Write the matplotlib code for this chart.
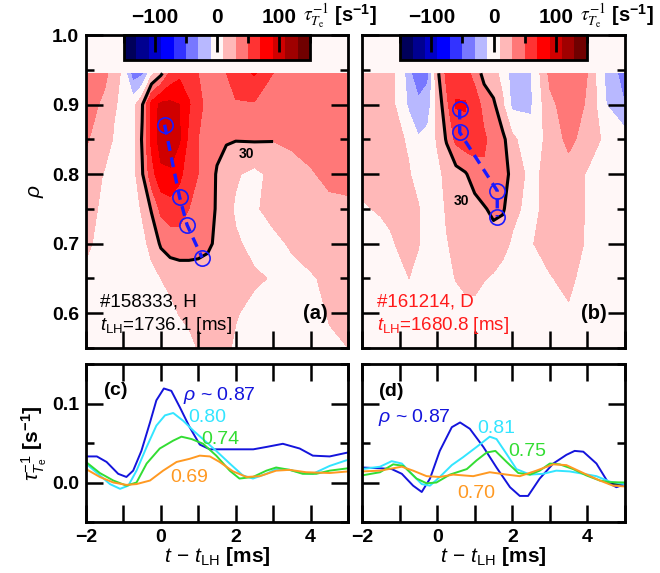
import numpy as np
import matplotlib
matplotlib.use('Agg')
import matplotlib.pyplot as plt
from matplotlib.ticker import MultipleLocator, FixedLocator

plt.rcParams['font.family'] = ['Liberation Sans', 'DejaVu Sans']
plt.rcParams['mathtext.fontset'] = 'custom'
plt.rcParams['mathtext.rm'] = 'Liberation Sans'
plt.rcParams['mathtext.it'] = 'Liberation Sans:italic'
plt.rcParams['mathtext.bf'] = 'Liberation Sans:bold'

# ---- contour maps: tau^-1 [s^-1] on (rho, t - t_LH) grid ----
t_grid = np.array([-2, -1.5, -1.25, -1, -0.75, -0.5, -0.25, 0, 0.25, 0.5, 0.75,
                   1, 1.25, 1.5, 1.75, 2, 2.5, 3, 3.5, 4, 4.5, 5])
rho_grid = np.array([0.55, 0.60, 0.65, 0.70, 0.75, 0.80, 0.85, 0.90, 0.945])

# rows: rho from 0.55 (bottom) to 0.945 (top)
rate_a = np.array([
    [0, 0, 0, 0, 0, 0, 0, 0, 0, 0, 5, 11, 14, 14, 12, 8, 3, 0, 0, 3, 8, 10],
    [0, 0, 0, 0, 0, 0, 0, 0, 5, 11, 14, 15, 16, 15, 13, 11, 6, 3, 2, 5, 11, 12],
    [5, 0, 0, 0, 0, 0, 5, 10, 15, 17, 17, 17, 17, 16, 15, 14, 12, 9, 5, 8, 14, 15],
    [14, 2, 0, 0, 0, 5, 15, 33, 40, 42, 42, 40, 35, 25, 20, 12, 6, 6, 12, 18, 18, 18],
    [18, 5, 2, 0, 2, 12, 32, 55, 60, 58, 50, 45, 38, 28, 15, 8, 8, 15, 18, 22, 25, 25],
    [25, 8, 5, 0, 2, 28, 62, 85, 88, 75, 58, 50, 42, 28, 20, 12, 5, 15, 22, 28, 35, 38],
    [32, 20, 8, 2, 3, 32, 75, 100, 98, 92, 65, 50, 42, 36, 32, 31, 32, 31, 34, 38, 31, 35],
    [40, 25, 12, 5, 2, 28, 78, 95, 95, 90, 72, 55, 45, 40, 45, 48, 48, 45, 40, 42, 40, 40],
    [45, 35, 20, 5, -40, -35, 5, 25, 55, 65, 60, 50, 45, 40, 50, 60, 72, 50, 40, 40, 40, 40],
])

rate_b = np.array([
    [0, 0, 0, 0, 0, 0, 0, 0, 0, 0, 0, 0, 0, 0, 0, 0, 0, 0, 0, 0, 0, 0],
    [0, 0, 0, 0, 0, 0, 0, 0, 0, 0, 5, 6, 0, 0, 0, 0, 0, 0, 8, 0, 0, 0],
    [0, 0, 2, 6, 10, 5, 0, 0, 3, 11, 14, 14, 11, 8, 4, 0, 0, 9, 14, 3, 0, 0],
    [0, 3, 8, 12, 13, 11, 2, 0, 9, 14, 16, 18, 20, 20, 15, 8, 9, 16, 18, 8, 0, 0],
    [8, 12, 13, 13, 12, 11, 3, 2, 12, 15, 18, 22, 28, 35, 33, 14, 5, 16, 20, 8, 0, 0],
    [15, 14, 13, 12, 11, 5, 0, 5, 15, 22, 28, 40, 48, 50, 45, 20, 5, 16, 22, 8, 2, 0],
    [15, 15, 14, 12, 8, -8, -3, 12, 32, 55, 62, 60, 52, 45, 35, 15, -5, 18, 35, 22, 5, 0],
    [15, 15, 12, 8, -15, -25, -20, 15, 45, 72, 72, 58, 45, 34, 12, -15, -12, 25, 40, 28, -10, -30],
    [15, 15, 12, 8, -25, -45, -35, 25, 55, 60, 55, 45, 22, 15, 5, -20, -12, 35, 45, 30, -15, -40],
])

# peak-time markers (rho vs t)
peak_t_a = [0.1, 0.5, 0.7, 1.1]
peak_rho_a = [0.871, 0.767, 0.727, 0.68]
peak_t_b = [0.6, 0.6, 1.6, 1.6]
peak_rho_b = [0.893, 0.86, 0.776, 0.739]

# ---- time traces (c): #158333 ----
c_t_087 = [-2, -1.71, -1.45, -1.14, -0.92, -0.74, -0.52, -0.29, -0.12, 0.08, 0.28, 0.51,
           0.77, 1.04, 1.31, 1.93, 2.47, 2.82, 3.26, 3.71, 4.06, 4.51, 5.0]
c_v_087 = [0.033, 0.033, 0.026, 0.011, 0.007, 0.015, 0.040, 0.076, 0.104, 0.119, 0.116, 0.095,
           0.070, 0.048, 0.042, 0.042, 0.042, 0.045, 0.049, 0.043, 0.034, 0.033, 0.038]
c_t_080 = [-2, -1.63, -1.36, -1.09, -0.87, -0.65, -0.38, -0.12, 0.11, 0.33, 0.6, 0.86,
           1.17, 1.48, 1.84, 2.19, 2.46, 2.82, 3.08, 3.44, 3.79, 4.06, 4.51, 4.95]
c_v_080 = [0.024, 0.009, -0.002, -0.008, -0.004, 0.015, 0.045, 0.072, 0.085, 0.088, 0.078, 0.066,
           0.053, 0.040, 0.024, 0.009, 0.005, 0.011, 0.017, 0.016, 0.012, 0.011, 0.021, 0.028]
c_t_074 = [-2, -1.63, -1.27, -0.92, -0.65, -0.38, -0.03, 0.33, 0.55, 0.82, 1.13, 1.48,
           1.84, 2.1, 2.46, 2.82, 3.08, 3.44, 3.79, 4.15, 4.51, 5.0]
c_v_074 = [0.026, 0.012, 0.0025, -0.004, 0.0, 0.024, 0.043, 0.053, 0.058, 0.055, 0.049, 0.034,
           0.015, 0.005, 0.007, 0.015, 0.019, 0.016, 0.011, 0.011, 0.015, 0.018]
c_t_069 = [-2, -1.63, -1.27, -0.92, -0.65, -0.29, 0.06, 0.42, 0.77, 1.04, 1.31, 1.57,
           1.93, 2.29, 2.64, 3.08, 3.44, 3.88, 4.51, 5.0]
c_v_069 = [0.017, 0.007, 0.0, -0.003, -0.002, 0.0025, 0.015, 0.026, 0.030, 0.034, 0.033, 0.026,
           0.014, 0.007, 0.008, 0.015, 0.016, 0.013, 0.012, 0.014]

# ---- time traces (d): #161214 ----
d_t_087 = [-2, -1.52, -1.21, -0.94, -0.64, -0.41, -0.19, 0.07, 0.39, 0.61, 0.87, 1.23, 1.58,
           1.94, 2.2, 2.42, 2.73, 3.09, 3.44, 3.66, 3.89, 4.24, 4.55, 4.77, 5.0]
d_v_087 = [0.019, 0.018, 0.017, 0.011, -0.004, -0.012, 0.005, 0.040, 0.070, 0.076, 0.068, 0.045, 0.019,
           -0.006, -0.017, -0.017, 0.005, 0.024, 0.035, 0.040, 0.039, 0.024, 0.0, -0.006, -0.002]
d_t_081 = [-2, -1.52, -1.21, -0.94, -0.64, -0.41, -0.19, 0.07, 0.39, 0.69, 1.05, 1.4, 1.58,
           1.85, 2.11, 2.47, 2.82, 3.17, 3.53, 3.89, 4.24, 4.6, 5.0]
d_v_081 = [0.017, 0.020, 0.027, 0.024, 0.009, -0.002, -0.004, 0.007, 0.022, 0.032, 0.045, 0.058, 0.055,
           0.036, 0.017, 0.010, 0.011, 0.015, 0.014, 0.011, 0.008, 0.001, -0.002]
d_t_075 = [-2, -1.52, -1.17, -0.9, -0.55, -0.28, -0.02, 0.34, 0.79, 1.05, 1.32, 1.55, 1.85,
           2.16, 2.47, 2.73, 3.0, 3.26, 3.62, 3.97, 4.33, 4.6, 5.0]
d_v_075 = [0.009, 0.013, 0.023, 0.021, 0.005, -0.001, 0.0, 0.010, 0.017, 0.028, 0.038, 0.040, 0.026,
           0.012, 0.010, 0.015, 0.024, 0.023, 0.017, 0.009, 0.0025, 0.0004, 0.0]
d_t_070 = [-2, -1.52, -0.94, -0.64, -0.28, 0.07, 0.43, 0.96, 1.4, 1.85, 2.2, 2.64, 3.09,
           3.44, 3.89, 4.33, 4.68, 5.0]
d_v_070 = [0.014, 0.015, 0.020, 0.015, 0.008, 0.007, 0.010, 0.008, 0.013, 0.010, 0.008, 0.015, 0.023,
           0.022, 0.012, 0.0025, -0.004, -0.005]

levels = np.arange(-150, 151, 20)
level_colors = ['#00005a', '#000090', '#0000c8', '#0000ff', '#3333ff', '#7878ff', '#b8b8ff',
                '#fff7f7',
                '#ffb8b8', '#ff7878', '#ff3333', '#ff0000', '#d00000', '#a00000', '#700000']

c_blue, c_cyan, c_green, c_orange = '#1414dc', '#33e5ff', '#33dd33', '#ff9922'

W, H = 660, 573
fig = plt.figure(figsize=(6.6, 5.73), dpi=100)


def px_axes(x0, y0, x1, y1):
    return fig.add_axes([x0 / W, 1 - y1 / H, (x1 - x0) / W, (y1 - y0) / H])


ax_a = px_axes(86, 35, 348, 348)
ax_b = px_axes(362, 35, 625, 348)
ax_c = px_axes(86, 364, 348, 522)
ax_d = px_axes(362, 364, 625, 522)


def style_axes(ax):
    for s in ax.spines.values():
        s.set_linewidth(2)
    ax.tick_params(which='both', direction='in', width=1.8, labelsize=14, pad=5)
    ax.tick_params(which='major', length=12)
    ax.tick_params(which='minor', length=6)
    for lab in ax.get_xticklabels() + ax.get_yticklabels():
        lab.set_fontweight('bold')


def draw_map(ax, rate, pk_t, pk_rho, win, label_pos, show_ylab):
    ax.set_facecolor('#fff7f7')
    cf = ax.contourf(t_grid, rho_grid, rate, levels=levels, colors=level_colors)
    # 30 s^-1 contour around the main structure only
    i0, i1 = win
    ax.contour(t_grid[i0:i1 + 1], rho_grid, rate[:, i0:i1 + 1], levels=[30],
               colors='black', linewidths=2.2)
    ax.text(label_pos[0], label_pos[1], '30', fontsize=10, fontweight='bold',
            ha='center', va='center')
    ax.plot(pk_t, pk_rho, color='#1a1aff', lw=2.4, ls=(0, (3, 2)),
            marker='o', ms=11, mfc='none', mec='#1a1aff', mew=1.2)
    ax.set_xlim(-2, 5)
    ax.set_ylim(0.55, 1.0)
    ax.xaxis.set_major_locator(MultipleLocator(1))
    ax.yaxis.set_major_locator(MultipleLocator(0.1))
    ax.yaxis.set_minor_locator(MultipleLocator(0.05))
    ax.tick_params(axis='x', which='both', bottom=True, top=False, labelbottom=False)
    ax.tick_params(axis='y', which='both', left=True, right=True, labelleft=show_ylab)
    style_axes(ax)

    cax = ax.inset_axes([0.145, 0.92, 0.71, 0.08])
    cb = fig.colorbar(cf, cax=cax, orientation='horizontal')
    cb.set_ticks([-100, 0, 100])
    cb.ax.xaxis.set_minor_locator(FixedLocator([-150, -50, 50, 150]))
    cb.outline.set_linewidth(2)
    cax.xaxis.set_ticks_position('top')
    cax.tick_params(which='both', direction='in', width=2, labelsize=15, pad=6)
    cax.tick_params(which='major', length=12)
    cax.tick_params(which='minor', length=6)
    for lab in cax.get_xticklabels():
        lab.set_fontweight('bold')
    t1 = ax.text(0.83, 1.045, r'$\tau_{T_{\rm e}}^{-1}$', transform=ax.transAxes,
                 fontsize=14, math_fontfamily='stix', va='baseline', clip_on=False)
    ax.annotate(r' [s$^{\mathbf{-1}}$]', xy=(1, 0.1), xycoords=t1, fontsize=14.5,
                fontweight='bold', va='bottom', annotation_clip=False)


draw_map(ax_a, rate_a, peak_t_a, peak_rho_a, (3, 17), (2.29, 0.829), True)
draw_map(ax_b, rate_b, peak_t_b, peak_rho_b, (5, 16), (0.65, 0.761), False)
ax_a.set_ylabel(r'$\rho$', fontsize=15, labelpad=4)

ax_a.text(0.053, 0.131, '#158333, H', transform=ax_a.transAxes, fontsize=13.5)
ax_a.text(0.053, 0.058, r'$t_{\rm LH}$=1736.1 [ms]', transform=ax_a.transAxes, fontsize=13.5)
ax_a.text(0.924, 0.093, '(a)', transform=ax_a.transAxes, fontsize=14.5,
          fontweight='bold', ha='right')
ax_b.text(0.057, 0.131, '#161214, D', transform=ax_b.transAxes, fontsize=13.5, color='#ff1a1a')
ax_b.text(0.057, 0.058, r'$t_{\rm LH}$=1680.8 [ms]', transform=ax_b.transAxes, fontsize=13.5,
          color='#ff1a1a')
ax_b.text(0.932, 0.093, '(b)', transform=ax_b.transAxes, fontsize=14.5,
          fontweight='bold', ha='right')


def draw_traces(ax, series, labels, show_ylab):
    for (tt, vv, col) in series:
        ax.plot(tt, vv, color=col, lw=1.4)
    for (x, y, s, col) in labels:
        ax.text(x, y, s, color=col, fontsize=14, va='baseline')
    ax.set_xlim(-2, 5)
    ax.set_ylim(-0.05, 0.15)
    ax.xaxis.set_major_locator(MultipleLocator(2))
    ax.xaxis.set_minor_locator(MultipleLocator(1))
    ax.yaxis.set_major_locator(MultipleLocator(0.1))
    ax.yaxis.set_minor_locator(MultipleLocator(0.05))
    ax.yaxis.set_major_formatter(plt.FormatStrFormatter('%.1f'))
    ax.tick_params(axis='x', which='both', bottom=True, top=True)
    ax.tick_params(axis='y', which='both', left=True, right=True, labelleft=show_ylab)
    style_axes(ax)
    ax.tick_params(axis='x', which='minor', length=12)
    ax.set_xlabel(r'$t\,-\,t_{\rm LH}$ $\mathbf{[ms]}$', fontsize=15, labelpad=-1)


draw_traces(ax_c,
            [(c_t_087, c_v_087, c_blue), (c_t_080, c_v_080, c_cyan),
             (c_t_074, c_v_074, c_green), (c_t_069, c_v_069, c_orange)],
            [(-1.55, 0.111, r'$\mathbf{(c)}$', 'black'),
             (0.59, 0.104, r'$\rho$ ~ 0.87', c_blue),
             (0.72, 0.076, '0.80', c_cyan),
             (1.09, 0.049, '0.74', c_green),
             (0.24, 0.0, '0.69', c_orange)], True)
draw_traces(ax_d,
            [(d_t_087, d_v_087, c_blue), (d_t_081, d_v_081, c_cyan),
             (d_t_075, d_v_075, c_green), (d_t_070, d_v_070, c_orange)],
            [(-1.57, 0.110, r'$\mathbf{(d)}$', 'black'),
             (-1.57, 0.076, r'$\rho$ ~ 0.87', c_blue),
             (1.06, 0.063, '0.81', c_cyan),
             (1.88, 0.034, '0.75', c_green),
             (0.53, -0.020, '0.70', c_orange)], False)
ax_c.set_ylabel(r'$\tau_{T_{\rm e}}^{-1}$ $\mathbf{[s^{-1}]}$', fontsize=15, labelpad=2)

fig.savefig('out.png', dpi=100)
